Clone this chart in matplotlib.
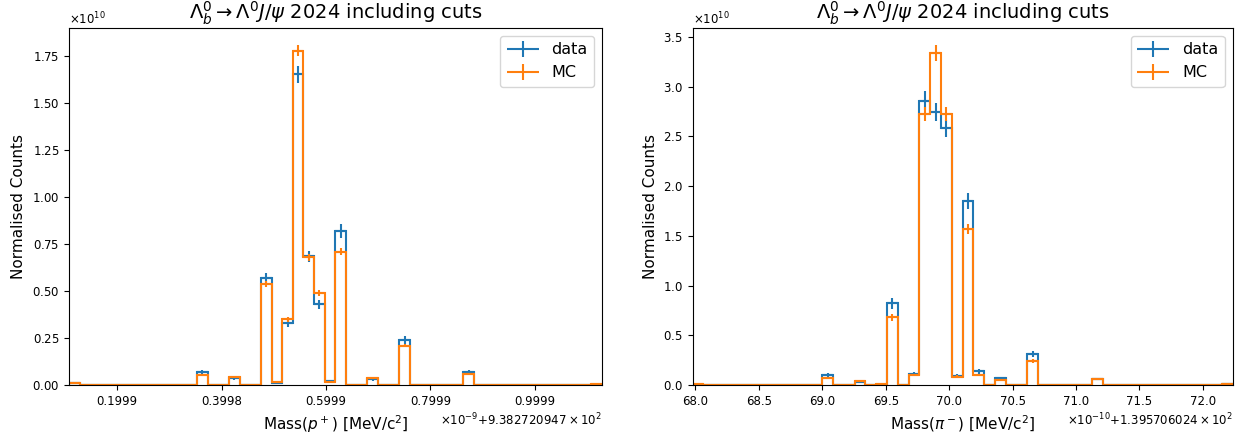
import numpy as np
import matplotlib
matplotlib.use('Agg')
import matplotlib.pyplot as plt
from matplotlib.ticker import FixedLocator, FixedFormatter
from matplotlib.container import ErrorbarContainer
from matplotlib.legend_handler import HandlerErrorbar

plt.rcParams['axes.formatter.use_mathtext'] = True

N_BINS = 50
SCALE = 1e10  # counts are read in units of 1e10

# proton panel, x in units of 1e-9 MeV above 938.2720947
p_range = (0.1077, 1.1285)
p_bins = [0, 12, 15, 18, 19, 20, 21, 22, 23, 24, 25, 28, 31, 37, 49]
p_data = [0.012, 0.07, 0.035, 0.57, 0.01, 0.33, 1.655, 0.685, 0.43, 0.023, 0.82, 0.03, 0.24, 0.07, 0.0]
p_data_err = [0.005, 0.01, 0.008, 0.028, 0.005, 0.02, 0.045, 0.03, 0.025, 0.006, 0.035, 0.007, 0.02, 0.01, 0.0]
p_mc = [0.012, 0.053, 0.04, 0.54, 0.014, 0.35, 1.78, 0.68, 0.49, 0.018, 0.71, 0.035, 0.21, 0.06, 0.006]
p_mc_err = [0.003, 0.006, 0.005, 0.016, 0.003, 0.013, 0.03, 0.02, 0.016, 0.003, 0.019, 0.004, 0.01, 0.005, 0.002]
p_ticks = [0.2, 0.4, 0.6, 0.8, 1.0]
p_ticklabels = ['0.1999', '0.3998', '0.5999', '0.7999', '0.9999']
p_offset = r'$\times\mathdefault{10^{-9}}\mathdefault{+9.382720947\times10^{2}}$'

# pion panel, x in units of 1e-10 MeV above 139.5706024
pi_range = (67.978, 72.236)
pi_bins = [0, 12, 15, 17, 18, 20, 21, 22, 23, 24, 25, 26, 28, 31, 37, 49]
pi_data = [0.0, 0.10, 0.035, 0.0, 0.82, 0.11, 2.86, 2.74, 2.58, 0.09, 1.85, 0.14, 0.07, 0.31, 0.06, 0.01]
pi_data_err = [0.0, 0.02, 0.012, 0.0, 0.055, 0.02, 0.1, 0.09, 0.085, 0.02, 0.08, 0.025, 0.015, 0.03, 0.014, 0.006]
pi_mc = [0.01, 0.07, 0.04, 0.015, 0.68, 0.10, 2.72, 3.34, 2.72, 0.085, 1.57, 0.10, 0.055, 0.245, 0.06, 0.01]
pi_mc_err = [0.005, 0.012, 0.009, 0.006, 0.035, 0.014, 0.07, 0.078, 0.07, 0.013, 0.05, 0.014, 0.01, 0.02, 0.01, 0.005]
pi_ticks = [68.0, 68.5, 69.0, 69.5, 70.0, 70.5, 71.0, 71.5, 72.0]
pi_ticklabels = ['68.0', '68.5', '69.0', '69.5', '70.0', '70.5', '71.0', '71.5', '72.0']
pi_offset = r'$\times\mathdefault{10^{-10}}\mathdefault{+1.395706024\times10^{2}}$'

TITLE = r'$\Lambda_b^0 \rightarrow \Lambda^0 J/\psi$ 2024 including cuts'


def fill(idx, vals):
    arr = np.zeros(N_BINS)
    arr[idx] = vals
    return arr * SCALE


def draw_panel(ax, xrange, idx, data, data_err, mc, mc_err,
               ticks, ticklabels, offset, xlabel):
    edges = np.linspace(xrange[0], xrange[1], N_BINS + 1)
    centers = 0.5 * (edges[:-1] + edges[1:])
    half = 0.5 * np.diff(edges)

    d, de = fill(idx, data), fill(idx, data_err)
    m, me = fill(idx, mc), fill(idx, mc_err)

    ax.hist(centers, bins=edges, weights=d, histtype='step', color='C0', linewidth=1.5)
    ax.errorbar(centers, d, yerr=de, xerr=half, fmt='none', color='C0', label='data')
    ax.hist(centers, bins=edges, weights=m, histtype='step', color='C1', linewidth=1.5)
    ax.errorbar(centers, m, yerr=me, xerr=half, fmt='none', color='C1', label='MC')

    ax.set_xlim(edges[0], edges[-1])
    ax.xaxis.set_major_locator(FixedLocator(ticks))
    fmt = FixedFormatter(ticklabels)
    fmt.set_offset_string(offset)
    ax.xaxis.set_major_formatter(fmt)

    ax.set_title(TITLE, fontsize=14)
    ax.set_xlabel(xlabel, fontsize=11)
    ax.set_ylabel('Normalised Counts', fontsize=11)
    ax.tick_params(labelsize=8.5)
    ax.xaxis.get_offset_text().set_fontsize(8.5)
    ax.yaxis.get_offset_text().set_fontsize(8.5)
    ax.legend(loc='upper right', fontsize=11.5,
              handler_map={ErrorbarContainer: HandlerErrorbar(xerr_size=1.0, yerr_size=0.5)})


fig = plt.figure(figsize=(12.49, 4.41), dpi=100)
ax1 = fig.add_axes([0.0552, 0.127, 0.4268, 0.8095])
ax2 = fig.add_axes([0.5546, 0.127, 0.4323, 0.8095])

draw_panel(ax1, p_range, p_bins, p_data, p_data_err, p_mc, p_mc_err,
           p_ticks, p_ticklabels, p_offset, r'Mass($p^+$) [MeV/c$^2$]')
draw_panel(ax2, pi_range, pi_bins, pi_data, pi_data_err, pi_mc, pi_mc_err,
           pi_ticks, pi_ticklabels, pi_offset, r'Mass($\pi^-$) [MeV/c$^2$]')

fig.savefig('out.png', dpi=100)
